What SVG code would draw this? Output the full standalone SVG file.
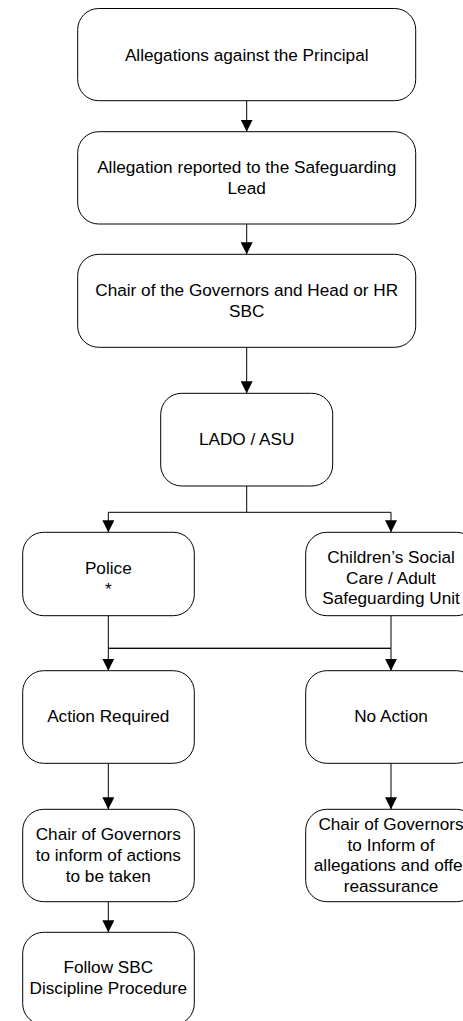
<svg xmlns="http://www.w3.org/2000/svg" width="463" height="1021" viewBox="0 0 463 1021">
<defs>
<marker id="arr" markerUnits="userSpaceOnUse" markerWidth="12" markerHeight="12" refX="12" refY="6" orient="auto">
<path d="M0,0 L12,6 L0,12 z" fill="#000"/>
</marker>
<style>
.box{fill:#fff;stroke:#000;stroke-width:1}
.t{font-family:"Liberation Sans",Arial,sans-serif;font-size:17.2px;fill:#000;text-anchor:middle}
.c{fill:none;stroke:#000;stroke-width:1}
</style>
</defs>
<rect width="463" height="1021" fill="#fff"/>
<g id="connectors">
<path class="c" d="M246.7,100.7 V131.7" marker-end="url(#arr)"/>
<path class="c" d="M246.7,224 V254.3" marker-end="url(#arr)"/>
<path class="c" d="M246.7,347.3 V393.3" marker-end="url(#arr)"/>
<path class="c" d="M246.7,486 V512.3 H108.3 V532.3" marker-end="url(#arr)"/>
<path class="c" d="M246.7,512.3 H391 V532.3" marker-end="url(#arr)"/>
<path class="c" d="M108.3,615.7 V648.3 V670.7" marker-end="url(#arr)"/>
<path class="c" d="M108.3,648.3 H391 V670.7" marker-end="url(#arr)"/>
<path class="c" d="M391,615.7 V648.3 H108.3"/>
<path class="c" d="M108.3,763.3 V809.3" marker-end="url(#arr)"/>
<path class="c" d="M391,763.3 V809.3" marker-end="url(#arr)"/>
<path class="c" d="M108.3,901.7 V932.3" marker-end="url(#arr)"/>
</g>
<g id="n1">
<rect class="box" x="77.7" y="8.5" width="338" height="92.2" rx="21" ry="21"/>
<text class="t" x="246.7" y="60.7">Allegations against the Principal</text>
</g>
<g id="n2">
<rect class="box" x="77.7" y="131.7" width="338" height="92.3" rx="21" ry="21"/>
<text class="t" x="246.7" y="173.3">Allegation reported to the Safeguarding</text>
<text class="t" x="246.7" y="194">Lead</text>
</g>
<g id="n3">
<rect class="box" x="77.7" y="254.3" width="338" height="93" rx="21" ry="21"/>
<text class="t" x="246.7" y="295.7">Chair of the Governors and Head or HR</text>
<text class="t" x="246.7" y="316.5">SBC</text>
</g>
<g id="n4">
<rect class="box" x="160.7" y="393.3" width="172" height="92.7" rx="21" ry="21"/>
<text class="t" x="246.7" y="445">LADO / ASU</text>
</g>
<g id="n5">
<rect class="box" x="22.7" y="532.3" width="171.6" height="83.4" rx="21" ry="21"/>
<text class="t" x="108.3" y="574">Police</text>
<text class="t" x="108.3" y="594.5">*</text>
</g>
<g id="n6">
<rect class="box" x="305.7" y="532.3" width="171.6" height="83.4" rx="21" ry="21"/>
<text class="t" x="391" y="563.2">Children’s Social</text>
<text class="t" x="391" y="583.6">Care / Adult</text>
<text class="t" x="391" y="604">Safeguarding Unit</text>
</g>
<g id="n7">
<rect class="box" x="22.7" y="670.7" width="171.6" height="92.6" rx="21" ry="21"/>
<text class="t" x="108.3" y="721.7">Action Required</text>
</g>
<g id="n8">
<rect class="box" x="305.7" y="670.7" width="171.6" height="92.6" rx="21" ry="21"/>
<text class="t" x="391" y="721.7">No Action</text>
</g>
<g id="n9">
<rect class="box" x="22.7" y="809.3" width="171.6" height="92.4" rx="21" ry="21"/>
<text class="t" x="108.3" y="840">Chair of Governors</text>
<text class="t" x="108.3" y="860.7">to inform of actions</text>
<text class="t" x="108.3" y="881.5">to be taken</text>
</g>
<g id="n10">
<rect class="box" x="305.7" y="809.3" width="171.6" height="92.4" rx="21" ry="21"/>
<text class="t" x="391" y="830">Chair of Governors</text>
<text class="t" x="391" y="850.7">to Inform of</text>
<text class="t" x="391" y="871.3">allegations and offer</text>
<text class="t" x="391" y="892">reassurance</text>
</g>
<g id="n11">
<rect class="box" x="22.7" y="932.3" width="171.6" height="92.4" rx="21" ry="21"/>
<text class="t" x="108.3" y="973.3">Follow SBC</text>
<text class="t" x="108.3" y="994.3">Discipline Procedure</text>
</g>
</svg>
